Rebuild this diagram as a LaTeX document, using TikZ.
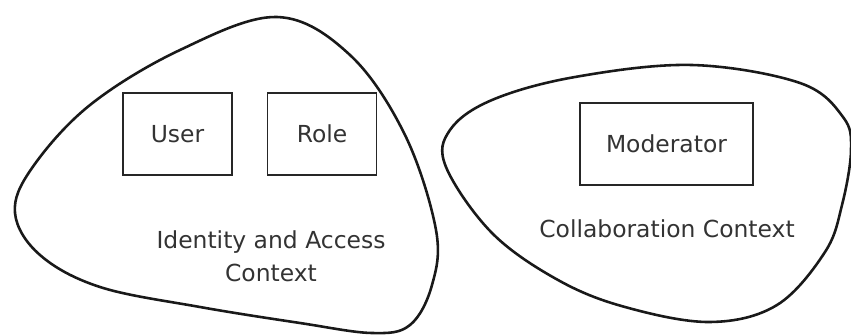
\documentclass[tikz,border=0pt]{standalone}
\usepackage{fontspec}
\setmainfont{DejaVu Sans}
\begin{document}
\begin{tikzpicture}[x=0.03cm,y=-0.03cm]
			\useasboundingbox (0,0) rectangle (851,335);
			% Define the box and label styles
			\tikzstyle{entitybox} = [draw=black!85, line width=1.6pt, rectangle, minimum width=3.27cm, minimum height=2.46cm, text=black!80, font=\fontsize{20}{28}\selectfont];
			\tikzstyle{ctxlabel} = [align=center, text=black!80, font=\fontsize{20}{28}\selectfont];
			\tikzstyle{ctxline} = [draw=black!90, line width=2.2pt];
			
			% Identity and Access context
			\draw[ctxline] plot[smooth cycle, tension=0.6] coordinates {(277,17) (350,55) (405,135) (436,230) (432,285) (410,325) (372,333) (300,323) (200,307) (100,287) (40,255) (15,213) (32,168) (90,105) (180,50)};
			
			% Draw 2 identical boxes at assigned locations
			\foreach \name/\x/\txt in {user/177.5/User, role/322/Role}
			\node[entitybox] (\name) at (\x,134) {\txt};
			
			\node[ctxlabel] (iamlabel) at (271,256) {Identity and Access\\Context};
			
			% Collaboration context
			\draw[ctxline] plot[smooth cycle, tension=0.6] coordinates {(692,65) (800,83) (843,117) (851,150) (842,205) (825,252) (777,305) (710,322) (625,307) (558,280) (492,233) (446,167) (450,130) (492,100) (575,77)};
			
			\node[entitybox, minimum width=5.19cm] (moderator) at (666.5,144) {Moderator};
			\node[ctxlabel] (collablabel) at (667,229) {Collaboration Context};
			%\node[ctxlabel] at (425,5) {Diagram};
		\end{tikzpicture}
\end{document}
